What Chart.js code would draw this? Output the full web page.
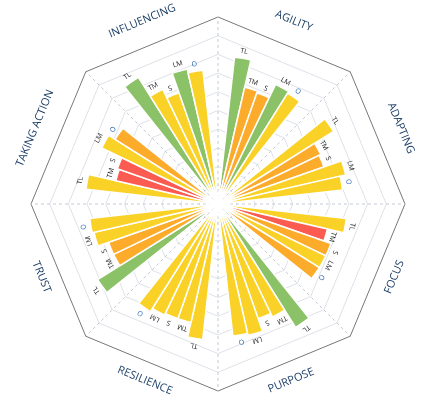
<!DOCTYPE html>
<html>
<head>
<meta charset="utf-8">
<script src="https://cdn.jsdelivr.net/npm/chart.js@4"></script>
<style>
  body { margin: 0; background: #fff; }
</style>
</head>
<body>
<canvas id="radarBars" width="428" height="419"></canvas>
<script>
// categories, clockwise from the top
var categories = ["AGILITY", "ADAPTING", "FOCUS", "PURPOSE", "RESILIENCE", "TRUST", "TAKING ACTION", "INFLUENCING"];
var groups = ["TL", "TM", "S", "LM", "O"];

// scores per category, in the order of groups
var agility = [7.9, 6.4, 6.3, 7.1, 7.0];
var adapting = [7.3, 6.1, 6.0, 7.0, 6.7];
var focus = [6.9, 6.0, 6.4, 6.4, 6.4];
var purpose = [7.8, 6.7, 6.5, 7.2, 7.1];
var resilience = [7.3, 6.5, 6.5, 6.6, 6.8];
var trust = [7.6, 6.2, 6.2, 6.8, 6.9];
var takingAction = [7.1, 5.6, 5.7, 6.9, 6.5];
var influencing = [8.0, 6.8, 6.3, 7.4, 7.2];

// g = green, y = yellow, o = orange, r = red
var colorCodes = [
    "googy", "yooyy", "yroyo", "gyyyy",
    "yyyyy", "gooyy", "yrryo", "gyygy"
];
var palette = { g: "#8bc267", y: "#fad227", o: "#fdab2b", r: "#fb5b50" };

var series = [agility, adapting, focus, purpose, resilience, trust, takingAction, influencing];

// 7 slots per category, first and last left empty
var values = [], colors = [], slotLabels = [];
series.forEach(function (vals, c) {
    values.push(null); colors.push("#fff"); slotLabels.push("");
    vals.forEach(function (v, k) {
        values.push(v);
        colors.push(palette[colorCodes[c][k]]);
        slotLabels.push(groups[k]);
    });
    values.push(null); colors.push("#fff"); slotLabels.push("");
});

var octagonGrid = {
    id: "octagonGrid",
    beforeDatasetsDraw: function (chart) {
        var s = chart.scales.r, ctx = chart.ctx;
        var cx = s.xCenter, cy = s.yCenter;
        function pt(r, i) {
            var a = -Math.PI / 2 + i * Math.PI / 4;
            return [cx + r * Math.cos(a), cy + r * Math.sin(a)];
        }
        ctx.save();
        for (var v = 1; v <= 10; v++) {
            var r = s.getDistanceFromCenterForValue(v);
            ctx.beginPath();
            for (var i = 0; i <= 8; i++) {
                var p = pt(r, i);
                if (i === 0) ctx.moveTo(p[0], p[1]); else ctx.lineTo(p[0], p[1]);
            }
            ctx.strokeStyle = v === 10 ? "#777" : "#dde1e8";
            ctx.lineWidth = 1;
            ctx.stroke();
        }
        var R = s.getDistanceFromCenterForValue(10);
        ctx.setLineDash([3, 3]);
        ctx.strokeStyle = "#c5cad3";
        for (var j = 0; j < 8; j++) {
            var e = pt(R, j);
            ctx.beginPath();
            ctx.moveTo(cx, cy);
            ctx.lineTo(e[0], e[1]);
            ctx.stroke();
        }
        ctx.restore();
    },
    afterDatasetsDraw: function (chart) {
        var s = chart.scales.r, ctx = chart.ctx;
        var cx = s.xCenter, cy = s.yCenter;
        var n = values.length;
        ctx.save();
        ctx.textAlign = "center";
        ctx.textBaseline = "middle";
        // small group labels at the tip of each bar
        ctx.font = "7px 'Open Sans', sans-serif";
        values.forEach(function (v, i) {
            if (v === null) return;
            var ang = (i + 0.5) * 2 * Math.PI / n;
            var d = s.getDistanceFromCenterForValue(v) + 7;
            ctx.save();
            ctx.translate(cx + d * Math.sin(ang), cy - d * Math.cos(ang));
            ctx.rotate(ang);
            ctx.fillStyle = slotLabels[i] === "O" ? "#1f5fa8" : "#222";
            ctx.fillText(slotLabels[i], 0, 0);
            ctx.restore();
        });
        // category names outside the octagon
        ctx.font = "11px 'Open Sans', sans-serif";
        ctx.fillStyle = "#1b3d66";
        var R = s.getDistanceFromCenterForValue(10);
        categories.forEach(function (name, c) {
            var ang = (c + 0.5) * Math.PI / 4;
            var bottom = Math.cos(ang) < 0;
            var d = R + (bottom ? 4 : 11);
            ctx.save();
            ctx.translate(cx + d * Math.sin(ang), cy - d * Math.cos(ang));
            ctx.rotate(bottom ? ang - Math.PI : ang);
            ctx.fillText(name, 0, 0);
            ctx.restore();
        });
        ctx.restore();
    }
};

new Chart(document.getElementById("radarBars"), {
    type: "polarArea",
    data: {
        labels: slotLabels,
        datasets: [{
            data: values,
            backgroundColor: colors,
            borderColor: "#fff",
            borderWidth: 1.5
        }]
    },
    options: {
        responsive: false,
        animation: false,
        layout: { padding: { top: 17, bottom: 27, left: 30.5, right: 22.5 } },
        plugins: { legend: { display: false }, tooltip: { enabled: false } },
        scales: {
            r: {
                min: 0,
                max: 10,
                ticks: { display: false },
                grid: { display: false },
                angleLines: { display: false },
                pointLabels: { display: false }
            }
        }
    },
    plugins: [octagonGrid]
});
</script>
</body>
</html>
